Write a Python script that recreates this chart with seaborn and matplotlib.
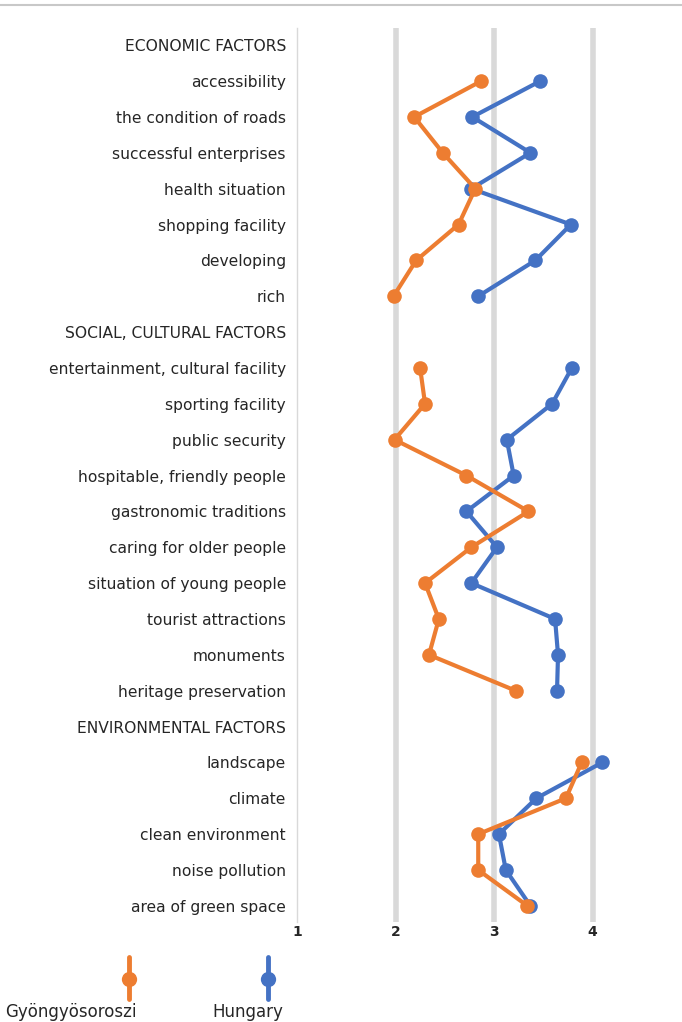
import numpy as np
import pandas as pd
import matplotlib
matplotlib.use("Agg")
import matplotlib.pyplot as plt
from matplotlib.lines import Line2D
import seaborn as sns

categories = [
    "ECONOMIC FACTORS", "accessibility", "the condition of roads", "successful enterprises",
    "health situation", "shopping facility", "developing", "rich",
    "SOCIAL, CULTURAL FACTORS", "entertainment, cultural facility", "sporting facility",
    "public security", "hospitable, friendly people", "gastronomic traditions",
    "caring for older people", "situation of young people", "tourist attractions",
    "monuments", "heritage preservation",
    "ENVIRONMENTAL FACTORS", "landscape", "climate", "clean environment",
    "noise pollution", "area of green space",
]
sections = ["econ"] * 8 + ["social"] * 11 + ["env"] * 6

gyongyos = [np.nan, 2.87, 2.19, 2.48, 2.81, 2.64, 2.21, 1.98,
            np.nan, 2.25, 2.30, 1.99, 2.72, 3.35, 2.77, 2.30, 2.44, 2.34, 3.22,
            np.nan, 3.89, 3.73, 2.84, 2.84, 3.34]
hungary = [np.nan, 3.47, 2.78, 3.37, 2.77, 3.78, 3.42, 2.84,
           np.nan, 3.79, 3.59, 3.13, 3.20, 2.72, 3.03, 2.77, 3.62, 3.65, 3.64,
           np.nan, 4.10, 3.43, 3.05, 3.12, 3.37]

series_names = ["Gyöngyösoroszi", "Hungary"]
colors = {"Gyöngyösoroszi": "#ED7D31", "Hungary": "#4472C4"}
xticks = [1, 2, 3, 4]

rows = []
for name, vals in [("Hungary", hungary), ("Gyöngyösoroszi", gyongyos)]:
    for i, (cat, sec, v) in enumerate(zip(categories, sections, vals)):
        rows.append({"series": name, "pos": i, "section": sec, "value": v})
df = pd.DataFrame(rows).dropna()

sns.set_style("white")
plt.rcParams["font.family"] = ["DejaVu Sans"]

fig = plt.figure(figsize=(6.82, 10.22), dpi=100)
ax = fig.add_axes([297 / 682, 1 - 922 / 1022, (691 - 297) / 682, (922 - 28) / 1022])

for name in ["Hungary", "Gyöngyösoroszi"]:
    sub = df[df["series"] == name]
    sns.lineplot(data=sub, x="value", y="pos", units="section", estimator=None,
                 sort=False, orient="y", color=colors[name], linewidth=3,
                 marker="o", markersize=10.5, markeredgewidth=0, ax=ax, legend=False)

ax.set_xlim(1, 5)
ax.set_ylim(24.45, -0.48)
ax.set_xticks(xticks)
ax.set_xticklabels([str(t) for t in xticks], fontsize=10, fontweight="bold")
ax.set_yticks(range(len(categories)))
ax.set_yticklabels(categories, fontsize=11.2, color="#262626")
ax.tick_params(axis="y", length=0, pad=8)
ax.tick_params(axis="x", length=0, pad=2)
ax.set_xlabel("")
ax.set_ylabel("")
for x in [2, 3, 4]:
    ax.axvline(x, color="#d9d9d9", linewidth=4, zorder=0)
for s in ["top", "right", "bottom"]:
    ax.spines[s].set_visible(False)
ax.spines["left"].set_color("#d9d9d9")
ax.spines["left"].set_linewidth(1)

# top border line of the image
fig.add_artist(Line2D([0, 1], [1 - 5 / 1022, 1 - 5 / 1022], color="#c8c8c8", linewidth=1.5))

# legend
for name, xpix, txpix in [("Gyöngyösoroszi", 129, 5), ("Hungary", 268, 212)]:
    xf = xpix / 682
    fig.add_artist(Line2D([xf, xf], [1 - 957 / 1022, 1 - 999 / 1022],
                          color=colors[name], linewidth=3.5))
    fig.add_artist(Line2D([xf], [1 - 979 / 1022], color=colors[name], marker="o",
                          markersize=11, markeredgewidth=0, linestyle="none"))
    fig.text(txpix / 682, 1 - 1012 / 1022, name, fontsize=12, color="#262626",
             ha="left", va="center")

fig.savefig("out.png", dpi=100)
